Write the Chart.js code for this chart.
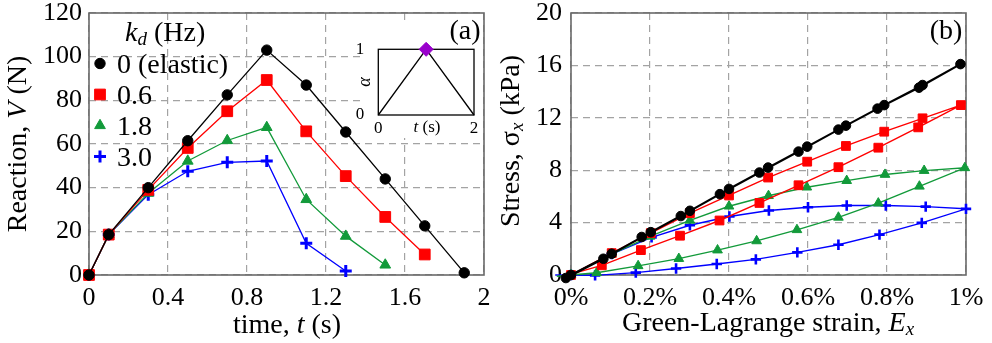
<!DOCTYPE html>
<html>
<head>
<meta charset="utf-8">
<script src="https://cdn.jsdelivr.net/npm/chart.js@4.4.0/dist/chart.umd.min.js"></script>
<style>
  html, body { margin: 0; padding: 0; background: #fff; }
  #wrap { position: relative; width: 992px; height: 343px; overflow: hidden; }
  canvas { position: absolute; }
</style>
</head>
<body>
<div id="wrap">
  <canvas id="reaction" width="496" height="343" style="left:0;top:0"></canvas>
  <canvas id="loadCurve" width="127" height="118" style="left:355px;top:25px"></canvas>
  <canvas id="stress" width="496" height="343" style="left:496px;top:0"></canvas>
</div>
<script>
// damping coefficients k_d (Hz)
const kdLabels = ['0 (elastic)', '0.6', '1.8', '3.0'];

// (a) reaction force V (N) against time t (s)
const timeS = [0, 0.1, 0.3, 0.5, 0.7, 0.9, 1.1, 1.3, 1.5, 1.7, 1.9];
const reactionElastic = [0, 18.5, 40, 61.5, 82.5, 103, 87, 65.5, 44, 22.5, 1];
const reaction06 = [0, 18.5, 39, 58.2, 75, 89.3, 65.8, 45.3, 26.6, 9.4];
const reaction18 = [0, 18.5, 37.5, 52.2, 61.6, 67.6, 34.6, 17.8, 4.6];
const reaction30 = [0, 18.5, 36.8, 47.5, 51.6, 52.2, 14.5, 1.8];

// inset: load factor alpha over the cycle
const alphaT = [0, 1, 2];
const alphaV = [0, 1, 0];
const peakT = [1];
const peakA = [1];

// (b) stress (kPa) against strain (%), loading then unloading
const strainElastic = [0, 0.103, 0.202, 0.301, 0.4, 0.499, 0.598, 0.696, 0.793, 0.89, 0.986,
  0.881, 0.776, 0.677, 0.576, 0.477, 0.377, 0.278, 0.179, 0.082, -0.013];
const stressElastic = [0, 1.62, 3.27, 4.9, 6.57, 8.2, 9.8, 11.4, 12.97, 14.5, 16.1,
  14.3, 12.7, 11.1, 9.42, 7.82, 6.17, 4.5, 2.9, 1.24, -0.23];
const strain06 = [0, 0.103, 0.202, 0.301, 0.4, 0.499, 0.598, 0.696, 0.793, 0.89, 0.987,
  0.879, 0.778, 0.677, 0.576, 0.477, 0.376, 0.276, 0.177, 0.078, -0.02];
const stress06 = [0, 1.67, 3.2, 4.72, 6.07, 7.44, 8.65, 9.85, 10.94, 11.96, 12.97,
  11.27, 9.72, 8.23, 6.85, 5.5, 4.16, 3.0, 1.9, 0.74, -0.1];
const strain18 = [0, 0.103, 0.2, 0.301, 0.4, 0.5, 0.597, 0.698, 0.795, 0.894, 0.997,
  0.882, 0.778, 0.677, 0.572, 0.47, 0.371, 0.273, 0.17, 0.065, -0.036];
const stress18 = [0, 1.6, 2.95, 4.17, 5.25, 6.05, 6.7, 7.2, 7.67, 7.97, 8.18,
  6.77, 5.48, 4.4, 3.45, 2.6, 1.9, 1.25, 0.7, 0.17, -0.1];
const strain30 = [0, 0.103, 0.204, 0.301, 0.401, 0.501, 0.6, 0.698, 0.797, 0.898, 1.0,
  0.888, 0.781, 0.677, 0.573, 0.468, 0.369, 0.266, 0.164, 0.061, -0.04];
const stress30 = [0, 1.6, 2.87, 3.8, 4.47, 4.92, 5.17, 5.3, 5.3, 5.22, 5.05,
  3.98, 3.08, 2.31, 1.73, 1.19, 0.84, 0.5, 0.18, -0.03, 0];

const SERIF = '"Liberation Serif"';
const up = s => `${s}px ${SERIF}`;
const it = s => `italic ${s}px ${SERIF}`;
const colors = ['#000000', '#ff0000', '#129a3a', '#0000ff'];
const GRID = '#a3a3a3';
const FRAME = '#6a6a6a';

Chart.defaults.font.family = SERIF;
Chart.defaults.font.size = 26;
Chart.defaults.color = '#000';

const pts = (xs, ys) => ys.map((y, i) => ({ x: xs[i], y }));
const fmt = v => String(Number(v.toFixed(1)));

// text made of pieces in different fonts (italic symbols, subscripts)
function drawRich(ctx, parts, x, y, align, rotate) {
  let w = 0;
  for (const p of parts) { ctx.font = p.font; w += ctx.measureText(p.text).width; }
  ctx.save();
  ctx.translate(x, y);
  if (rotate) ctx.rotate(-Math.PI / 2);
  ctx.textAlign = 'left';
  ctx.textBaseline = 'middle';
  let cx = align === 'left' ? 0 : -w / 2;
  for (const p of parts) {
    ctx.font = p.font;
    ctx.fillText(p.text, cx, p.dy || 0);
    cx += ctx.measureText(p.text).width;
  }
  ctx.restore();
}

// box around the plot area, white patch behind the inset, titles and legend
const decor = {
  id: 'decor',
  beforeDatasetsDraw(chart, args, opts) {
    const { ctx, chartArea: a } = chart;
    ctx.save();
    if (opts.cover) {
      const c = opts.cover;
      ctx.fillStyle = '#fff';
      ctx.fillRect(c[0], c[1], c[2] - c[0], c[3] - c[1]);
    }
    ctx.strokeStyle = opts.frameColor;
    ctx.lineWidth = opts.frameWidth;
    ctx.setLineDash([]);
    ctx.strokeRect(a.left, a.top, a.right - a.left, a.bottom - a.top);
    ctx.restore();
  },
  afterDatasetsDraw(chart, args, opts) {
    const ctx = chart.ctx;
    ctx.save();
    ctx.fillStyle = '#000';
    for (const t of opts.texts || []) drawRich(ctx, t.parts, t.x, t.y, t.align, t.rotate);
    const lg = opts.legend;
    if (lg) {
      drawRich(ctx, lg.header, lg.headerX, lg.headerY, 'left');
      chart.data.datasets.forEach((ds, i) => {
        const y = lg.y0 + i * lg.dy;
        ctx.save();
        ctx.fillStyle = ds.backgroundColor;
        ctx.strokeStyle = ds.borderColor;
        ctx.lineWidth = ds.pointBorderWidth;
        ctx.setLineDash([]);
        Chart.helpers.drawPoint(ctx, {
          pointStyle: ds.pointStyle, radius: ds.pointRadius,
          borderWidth: ds.pointBorderWidth, rotation: 0
        }, lg.markerX, y);
        ctx.restore();
        ctx.fillStyle = '#000';
        drawRich(ctx, [{ text: ds.label, font: up(28) }], lg.textX, y + 2, 'left');
      });
    }
    ctx.restore();
  }
};

const markerA = [
  { pointStyle: 'circle', pointRadius: 5.2, pointBorderWidth: 1 },
  { pointStyle: 'rect', pointRadius: 7.6, pointBorderWidth: 1 },
  { pointStyle: 'triangle', pointRadius: 6.2, pointBorderWidth: 1 },
  { pointStyle: 'cross', pointRadius: 6, pointBorderWidth: 3 }
];
const markerB = [
  { pointStyle: 'circle', pointRadius: 4.8, pointBorderWidth: 1 },
  { pointStyle: 'rect', pointRadius: 6.2, pointBorderWidth: 1 },
  { pointStyle: 'triangle', pointRadius: 5.6, pointBorderWidth: 1 },
  { pointStyle: 'cross', pointRadius: 5.2, pointBorderWidth: 2.6 }
];

function series(label, data, i, marker, lineWidth) {
  return Object.assign({
    label, data,
    borderColor: colors[i], backgroundColor: colors[i],
    borderWidth: lineWidth, tension: 0, clip: false
  }, marker);
}

function axis(opts) {
  return {
    type: 'linear', min: opts.min, max: opts.max,
    ticks: {
      stepSize: opts.step, callback: opts.format, autoSkip: false, maxRotation: 0,
      font: { family: SERIF, size: 26 }, color: '#000', padding: opts.pad
    },
    grid: { color: GRID, lineWidth: 1.2, drawTicks: false },
    border: { display: false, dash: [7, 5] },
    afterFit: s => {
      if (opts.width) s.width = opts.width;
      if (opts.height) s.height = opts.height;
      s.paddingTop = s.paddingBottom = s.paddingLeft = s.paddingRight = 0;
    }
  };
}

// (a) reaction vs time
new Chart(document.getElementById('reaction'), {
  type: 'line',
  data: {
    datasets: [
      series(kdLabels[0], pts(timeS, reactionElastic), 0, markerA[0], 1.3),
      series(kdLabels[1], pts(timeS, reaction06), 1, markerA[1], 1.3),
      series(kdLabels[2], pts(timeS, reaction18), 2, markerA[2], 1.3),
      series(kdLabels[3], pts(timeS, reaction30), 3, markerA[3], 1.3)
    ]
  },
  options: {
    responsive: false, devicePixelRatio: 1, animation: false,
    layout: { padding: { left: 0, right: 12, top: 13, bottom: 0 } },
    plugins: {
      legend: { display: false }, tooltip: { enabled: false },
      decor: {
        frameColor: FRAME, frameWidth: 1.6,
        cover: [360, 25, 482.5, 138],
        texts: [
          { parts: [{ text: 'Reaction, ', font: up(28) }, { text: 'V', font: it(28) }, { text: ' (N)', font: up(28) }], x: 19, y: 144, rotate: true },
          { parts: [{ text: 'time, ', font: up(28) }, { text: 't', font: it(28) }, { text: ' (s)', font: up(28) }], x: 287, y: 326 },
          { parts: [{ text: '(a)', font: up(28) }], x: 465, y: 32 }
        ],
        legend: {
          header: [{ text: 'k', font: it(28) }, { text: 'd', font: it(19), dy: 6 }, { text: ' (Hz)', font: up(28) }],
          headerX: 125, headerY: 34,
          markerX: 100, textX: 117, y0: 63.5, dy: 31
        }
      }
    },
    scales: {
      x: axis({ min: 0, max: 2, step: 0.4, format: fmt, pad: 8, height: 68 }),
      y: axis({ min: 0, max: 120, step: 20, format: fmt, pad: 7, width: 89 })
    }
  },
  plugins: [decor]
});

// inset: alpha(t)
new Chart(document.getElementById('loadCurve'), {
  type: 'line',
  data: {
    datasets: [
      { data: pts(peakT, peakA), pointStyle: 'rectRot', pointRadius: 7, pointBorderWidth: 1,
        backgroundColor: '#9900cc', borderColor: '#9900cc', showLine: false, clip: false },
      { data: pts(alphaT, alphaV), borderColor: '#000', borderWidth: 1.3, pointRadius: 0,
        tension: 0, clip: false }
    ]
  },
  options: {
    responsive: false, devicePixelRatio: 1, animation: false,
    layout: { padding: { left: 0, right: 4.3, top: 24.3, bottom: 0 } },
    plugins: {
      legend: { display: false }, tooltip: { enabled: false },
      decor: {
        frameColor: '#000', frameWidth: 1.3,
        texts: [
          { parts: [{ text: 'α', font: it(18) }], x: 10.5, y: 57, rotate: true },
          { parts: [{ text: 't', font: it(17) }, { text: ' (s)', font: up(17) }], x: 72, y: 102.5 }
        ]
      }
    },
    scales: {
      x: {
        type: 'linear', min: 0, max: 2,
        afterBuildTicks: s => { s.ticks = alphaT.filter(v => v !== 1).map(v => ({ value: v })); },
        ticks: { font: { family: SERIF, size: 17 }, color: '#000', padding: -5, maxRotation: 0 },
        grid: { display: false }, border: { display: false },
        afterFit: s => { s.height = 28; s.paddingLeft = s.paddingRight = 0; }
      },
      y: {
        type: 'linear', min: 0, max: 1,
        afterBuildTicks: s => { s.ticks = [0, 1].map(v => ({ value: v })); },
        ticks: { font: { family: SERIF, size: 17 }, color: '#000', padding: 6 },
        grid: { display: false }, border: { display: false },
        afterFit: s => { s.width = 23.3; s.paddingTop = s.paddingBottom = 0; }
      }
    }
  },
  plugins: [decor]
});

// (b) stress vs strain
new Chart(document.getElementById('stress'), {
  type: 'line',
  data: {
    datasets: [
      series(kdLabels[0], pts(strainElastic, stressElastic), 0, markerB[0], 2),
      series(kdLabels[1], pts(strain06, stress06), 1, markerB[1], 1.4),
      series(kdLabels[2], pts(strain18, stress18), 2, markerB[2], 1.4),
      series(kdLabels[3], pts(strain30, stress30), 3, markerB[3], 1.4)
    ]
  },
  options: {
    responsive: false, devicePixelRatio: 1, animation: false,
    layout: { padding: { left: 0, right: 26, top: 13, bottom: 0 } },
    plugins: {
      legend: { display: false }, tooltip: { enabled: false },
      decor: {
        frameColor: FRAME, frameWidth: 1.6,
        texts: [
          { parts: [{ text: 'Stress, σ', font: up(28) }, { text: 'x', font: it(19), dy: 6 }, { text: ' (kPa)', font: up(28) }], x: 16, y: 141, rotate: true },
          { parts: [{ text: 'Green-Lagrange strain, ', font: up(28) }, { text: 'E', font: it(28) }, { text: 'x', font: it(19), dy: 6 }], x: 272, y: 324 },
          { parts: [{ text: '(b)', font: up(28) }], x: 450, y: 32 }
        ]
      }
    },
    scales: {
      x: axis({ min: 0, max: 1, step: 0.2, format: v => fmt(v) + '%', pad: 8, height: 68 }),
      y: axis({ min: 0, max: 20, step: 4, format: fmt, pad: 9, width: 75 })
    }
  },
  plugins: [decor]
});
</script>
</body>
</html>
